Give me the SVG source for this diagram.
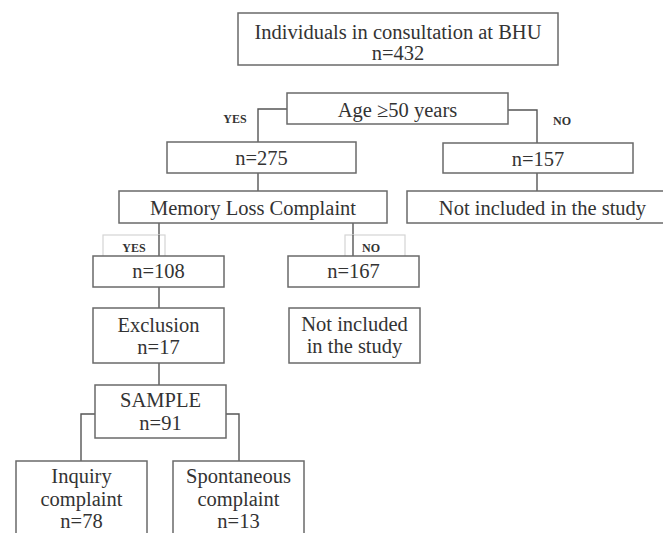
<svg xmlns="http://www.w3.org/2000/svg" width="663" height="533" viewBox="0 0 663 533">
<style>
.box{fill:#fff;stroke:#6a6a6a;stroke-width:1.5}
.lbl{fill:#fff;stroke:#d4d4d4;stroke-width:1.2}
.t{font-family:"Liberation Serif","Times New Roman",serif;font-size:20.5px;fill:#333;text-anchor:middle}
.s{font-family:"Liberation Serif","Times New Roman",serif;font-size:12px;font-weight:bold;fill:#333;text-anchor:middle}
.c{fill:none;stroke:#555;stroke-width:1.4}
</style>
<rect width="663" height="533" fill="#fff"/>
<g id="connectors">
<path class="c" d="M287,109 H258 V142"/>
<path class="c" d="M508,110 H537 V143"/>
<path class="c" d="M258,173 V191"/>
<path class="c" d="M537,173 V191"/>
<path class="c" d="M159,223 V256"/>
<path class="c" d="M353,223 V256"/>
<path class="c" d="M159,287 V308"/>
<path class="c" d="M159,363 V385"/>
<path class="c" d="M95,414 H81 V461"/>
<path class="c" d="M226,414 H239 V461"/>
</g>
<g id="yes1"><text class="s" x="235" y="123">YES</text></g>
<g id="no1"><text class="s" x="562" y="125">NO</text></g>
<g id="yes2"><rect class="lbl" x="103" y="235" width="62" height="24"/><text class="s" x="134" y="252">YES</text></g>
<g id="no2"><rect class="lbl" x="345" y="235" width="60" height="23"/><text class="s" x="371" y="252">NO</text></g>
<g id="connectors-fix">
<path class="c" d="M159,235 V256"/>
<path class="c" d="M353,235 V256"/>
</g>
<g id="n-top"><rect class="box" x="238" y="13" width="320" height="52"/><text class="t" x="398" y="39">Individuals in consultation at BHU</text><text class="t" x="398" y="60">n=432</text></g>
<g id="n-age"><rect class="box" x="287" y="93" width="221" height="31"/><text class="t" x="397.5" y="117">Age ≥50 years</text></g>
<g id="n-275"><rect class="box" x="167" y="142" width="189" height="31"/><text class="t" x="261.5" y="165">n=275</text></g>
<g id="n-157"><rect class="box" x="443" y="143" width="190" height="30"/><text class="t" x="538" y="166">n=157</text></g>
<g id="n-memory"><rect class="box" x="119" y="191" width="268" height="32"/><text class="t" x="253" y="215">Memory Loss Complaint</text></g>
<g id="n-notinc1"><rect class="box" x="407" y="191" width="265" height="32"/><text class="t" x="542.5" y="215">Not included in the study</text></g>
<g id="n-108"><rect class="box" x="93" y="256" width="131" height="31"/><text class="t" x="158.5" y="278">n=108</text></g>
<g id="n-167"><rect class="box" x="288" y="256" width="131" height="31"/><text class="t" x="353.5" y="278">n=167</text></g>
<g id="n-exclusion"><rect class="box" x="93" y="308" width="131" height="55"/><text class="t" x="158.5" y="332">Exclusion</text><text class="t" x="158.5" y="354">n=17</text></g>
<g id="n-notinc2"><rect class="box" x="289" y="308" width="131" height="55"/><text class="t" x="354.5" y="331">Not included</text><text class="t" x="354.5" y="353">in the study</text></g>
<g id="n-sample"><rect class="box" x="95" y="385" width="131" height="53"/><text class="t" x="160.5" y="407">SAMPLE</text><text class="t" x="160.5" y="430">n=91</text></g>
<g id="n-inquiry"><rect class="box" x="16" y="461" width="131" height="80"/><text class="t" x="81.5" y="483">Inquiry</text><text class="t" x="81.5" y="506">complaint</text><text class="t" x="81.5" y="528">n=78</text></g>
<g id="n-spont"><rect class="box" x="173" y="461" width="131" height="80"/><text class="t" x="238.5" y="483">Spontaneous</text><text class="t" x="238.5" y="506">complaint</text><text class="t" x="238.5" y="528">n=13</text></g>
</svg>
